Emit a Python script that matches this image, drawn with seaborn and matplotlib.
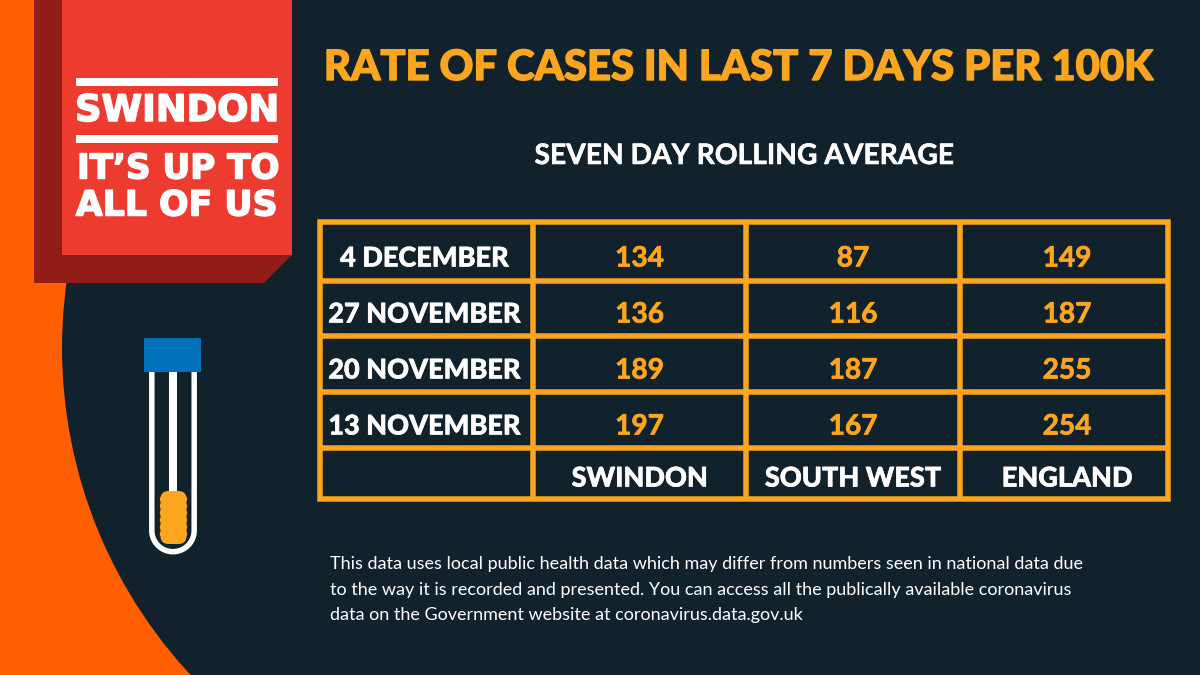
import numpy as np
import seaborn as sns
import matplotlib
matplotlib.use("Agg")
import matplotlib.pyplot as plt
import matplotlib.patheffects as pe
from matplotlib.colors import ListedColormap
from matplotlib.patches import Rectangle, Polygon, Circle, FancyBboxPatch

dates = ["4 DECEMBER", "27 NOVEMBER", "20 NOVEMBER", "13 NOVEMBER"]
regions = ["SWINDON", "SOUTH WEST", "ENGLAND"]
swindon = [134, 136, 189, 197]
south_west = [87, 116, 187, 167]
england = [149, 187, 255, 254]
title = "RATE OF CASES IN LAST 7 DAYS PER 100K"
subtitle = "SEVEN DAY ROLLING AVERAGE"
footer = ["This data uses local public health data which may differ from numbers seen in national data due",
          "to the way it is recorded and presented. You can access all the publically available coronavirus",
          "data on the Government website at coronavirus.data.gov.uk"]

NAVY = "#12222C"; ORANGE = "#FF5F00"; RED = "#EE3B30"; DRED = "#921C18"; GOLD = "#FBA61E"; BLUE = "#0070BA"
FONT = ["Lato", "DejaVu Sans"]
LW = 5.5 * 72 / 100


def heavy(color, width):
    return [pe.withStroke(linewidth=width, foreground=color)]


sns.set_theme(style="white")
plt.rcParams["font.family"] = FONT

fig = plt.figure(figsize=(12, 6.75), dpi=100, facecolor=ORANGE)
bg = fig.add_axes([0, 0, 1, 1])
bg.set_xlim(0, 1200); bg.set_ylim(675, 0); bg.axis("off")

# backdrop
bg.add_patch(Circle((542, 348), 480, fc=NAVY, ec="none"))
bg.add_patch(Rectangle((300, 0), 900, 675, fc=NAVY, ec="none"))

# logo block
bg.add_patch(Polygon([(34, 0), (292, 0), (292, 255), (264, 283), (34, 283)], fc=DRED, ec="none"))
bg.add_patch(Rectangle((62, 0), 230, 255, fc=RED, ec="none"))
bg.add_patch(Rectangle((76, 78), 202, 8, fc="white", ec="none"))
bg.add_patch(Rectangle((76, 135), 202, 7.5, fc="white", ec="none"))
logo_font = ["DejaVu Sans"]
logo_fx = heavy("white", 1.1)
bg.text(177, 110.5, "SWINDON", color="white", ha="center", va="center", fontsize=26.5, fontweight="bold",
        family=logo_font, path_effects=logo_fx)
bg.text(178, 169, "IT’S UP TO", color="white", ha="center", va="center", fontsize=24.6, fontweight="bold",
        family=logo_font, path_effects=logo_fx)
bg.text(177, 205.5, "ALL OF US", color="white", ha="center", va="center", fontsize=25, fontweight="bold",
        family=logo_font, path_effects=logo_fx)

# test tube
yy = np.linspace(np.pi, 0, 40)
tx = np.r_[151.8, 173 + 21.2 * np.cos(yy), 194.2]
ty = np.r_[372, 530.5 + 21.2 * np.sin(yy), 372]
bg.plot(tx, ty, color="white", lw=5.5 * 72 / 100, solid_capstyle="butt")
bg.add_patch(Rectangle((169, 372), 8, 125, fc="white", ec="none"))
bg.add_patch(FancyBboxPatch((166.5, 497), 14, 41, boxstyle="round,pad=6,rounding_size=8", fc=GOLD, ec="none"))
for by in np.arange(499, 540, 7):
    for bx in (163, 184):
        bg.add_patch(Circle((bx, by), 3.2, fc=GOLD, ec="none"))
bg.add_patch(Rectangle((144, 338), 57, 34, fc=BLUE, ec="none"))

# headings
bg.text(737.5, 68, title, color=GOLD, ha="center", va="center", fontsize=30.1, fontweight="black",
        path_effects=heavy(GOLD, 1.0))
bg.text(744.5, 156, subtitle, color="white", ha="center", va="center", fontsize=20.3, fontweight="bold",
        path_effects=heavy("white", 0.4))

# footer
for y, line in zip([564, 590, 615], footer):
    bg.text(330, y, line, color="white", ha="left", va="center", fontsize=13)

# values table: cells and text come from the heatmap, ruling sits on top
values = np.column_stack([swindon, south_west, england])
left, right, top, bottom = 532.5, 1168, 222, 448
ax = fig.add_axes([left / 1200, 1 - bottom / 675, (right - left) / 1200, (bottom - top) / 675])
sns.heatmap(values, ax=ax, cmap=ListedColormap([NAVY]), cbar=False, annot=True, fmt="d",
            linewidths=0, xticklabels=regions, yticklabels=dates,
            annot_kws=dict(color=GOLD, fontsize=20.2, fontweight="bold"))
col_w = (right - left) / 3
row_h = (bottom - top) / 4
col_px = np.array([639.5, 853, 1067])
row_px = np.array([258.5, 314.5, 370.5, 426.5])
for t in ax.texts:
    x0, y0 = t.get_position()
    t.set_position(((col_px[int(x0)] - left) / col_w, (row_px[int(y0)] - top) / row_h))
    t.set_path_effects(heavy(GOLD, 0.5))
ax.set_xticks((col_px - left) / col_w, regions)
ax.set_yticks((row_px - top) / row_h, dates)
ax.tick_params(axis="y", length=0, pad=78, labelrotation=0)
ax.tick_params(axis="x", length=0, pad=22, labelrotation=0)
for t in list(ax.get_yticklabels()) + list(ax.get_xticklabels()):
    t.set(color="white", ha="center", va="center", fontsize=19.5, fontweight="black",
          path_effects=heavy("white", 0.4))

rule = fig.add_axes([0, 0, 1, 1], zorder=5)
rule.set_xlim(0, 1200); rule.set_ylim(675, 0); rule.axis("off"); rule.patch.set_alpha(0)
rule.add_patch(Rectangle((320, 222), 848, 277, fc="none", ec=GOLD, lw=LW))
for y in (281, 336, 392, 448):
    rule.plot([320, 1168], [y, y], color=GOLD, lw=LW, solid_capstyle="butt")
for x in (532.5, 745.5, 960):
    rule.plot([x, x], [222, 499], color=GOLD, lw=LW, solid_capstyle="butt")

fig.savefig("out.png", dpi=100, facecolor=ORANGE)
